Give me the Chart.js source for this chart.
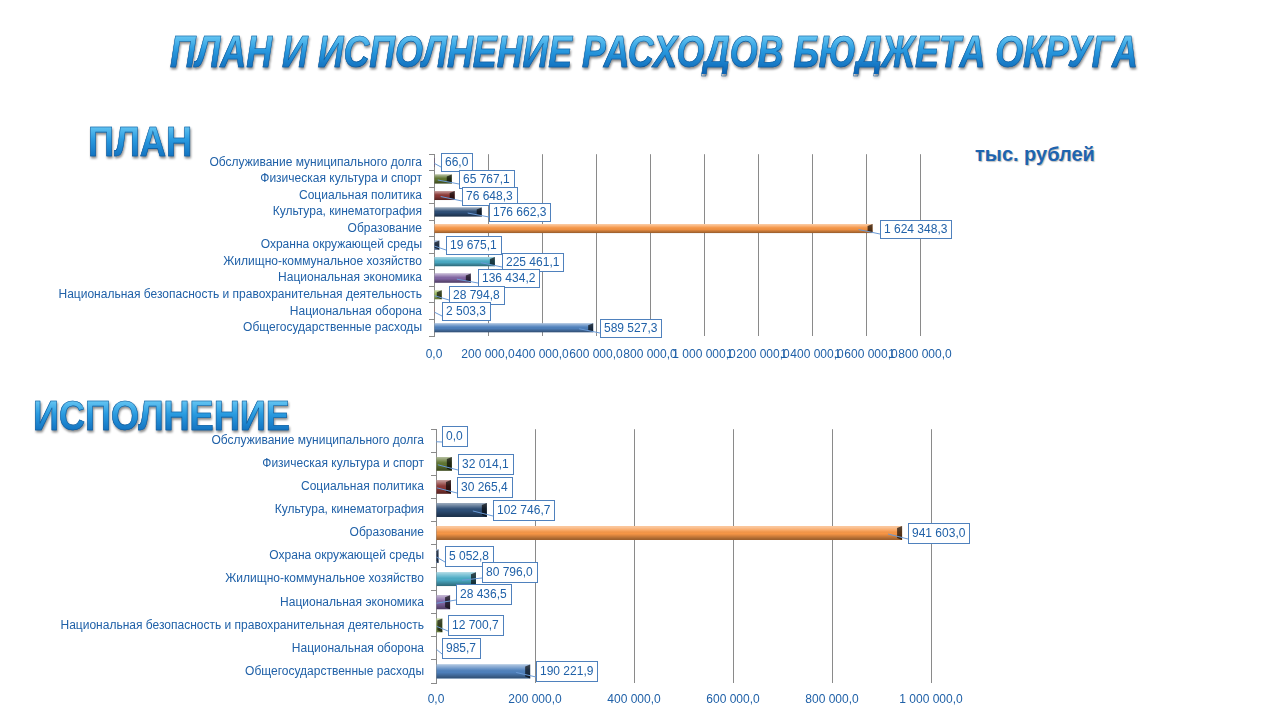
<!DOCTYPE html>
<html lang="ru">
<head>
<meta charset="utf-8">
<title>План и исполнение расходов бюджета округа</title>
<script src="https://cdn.jsdelivr.net/npm/chart.js@4.4.1/dist/chart.umd.min.js"></script>
<style>
  html, body { margin: 0; padding: 0; background: #fff; }
  body { width: 1280px; height: 720px; position: relative; overflow: hidden; font-family: "Liberation Sans", Arial, sans-serif; }
  canvas { position: absolute; left: 0; }
  .heading {
    position: absolute; z-index: 2; white-space: nowrap; font-weight: bold; line-height: 1;
    background: linear-gradient(#7fd8fa 0%, #2a9be0 45%, #0a63b4 100%);
    -webkit-background-clip: text; background-clip: text; color: transparent;
    -webkit-text-stroke: 0.6px #0d5596;
    filter: drop-shadow(1px 2px 1px rgba(0, 0, 0, 0.45));
    transform-origin: left top;
  }
  #title { left: 170px; top: 30px; font-family: "Liberation Sans Narrow", "Liberation Sans", sans-serif; font-style: italic; font-size: 44px; }
  #planHead { left: 88px; top: 120px; font-size: 43px; }
  #execHead { left: 33px; top: 395px; font-size: 42px; }
  #units { position: absolute; left: 975px; top: 143px; font-size: 20px; font-weight: bold; color: #1e64af; text-shadow: 1px 1px 1px rgba(0,0,0,0.25); }
</style>
</head>
<body>
<div class="heading" id="title">ПЛАН И ИСПОЛНЕНИЕ РАСХОДОВ БЮДЖЕТА ОКРУГА</div>
<div class="heading" id="planHead">ПЛАН</div>
<div class="heading" id="execHead">ИСПОЛНЕНИЕ</div>
<div id="units">тыс. рублей</div>
<canvas id="planChart" width="1000" height="230" style="top:140px"></canvas>
<canvas id="execChart" width="1000" height="300" style="top:415px"></canvas>
<script>
// categories listed top to bottom, as shown
const planCategories = [
  'Обслуживание муниципального долга',
  'Физическая культура и спорт',
  'Социальная политика',
  'Культура, кинематография',
  'Образование',
  'Охранна окружающей среды',
  'Жилищно-коммунальное хозяйство',
  'Национальная экономика',
  'Национальная безопасность и правохранительная деятельность',
  'Национальная оборона',
  'Общегосударственные расходы'
];
const execCategories = [
  'Обслуживание муниципального долга',
  'Физическая культура и спорт',
  'Социальная политика',
  'Культура, кинематография',
  'Образование',
  'Охрана окружающей среды',
  'Жилищно-коммунальное хозяйство',
  'Национальная экономика',
  'Национальная безопасность и правохранительная деятельность',
  'Национальная оборона',
  'Общегосударственные расходы'
];
const planValues = [66.0, 65767.1, 76648.3, 176662.3, 1624348.3, 19675.1, 225461.1, 136434.2, 28794.8, 2503.3, 589527.3];
const execValues = [0.0, 32014.1, 30265.4, 102746.7, 941603.0, 5052.8, 80796.0, 28436.5, 12700.7, 985.7, 190221.9];
const planTicks = [0, 200000, 400000, 600000, 800000, 1000000, 1200000, 1400000, 1600000, 1800000];
const execTicks = [0, 200000, 400000, 600000, 800000, 1000000];

const barColors = ['#5c4776', '#5f7530', '#8c3836', '#2c4d75', '#f79646', '#6790cc',
  '#4bacc6', '#8064a2', '#9bbb59', '#c0504d', '#4f81bd'];

const textBlue = '#2061a8';
const fontFamily = '"Liberation Sans", Arial, sans-serif';

// "1 624 348,3" style
function fmt(v) {
  const parts = v.toFixed(1).split('.');
  return parts[0].replace(/\B(?=(\d{3})+(?!\d))/g, ' ') + ',' + parts[1];
}

// glossy look for the bars
const barShade = {
  id: 'barShade',
  afterDatasetsDraw(chart) {
    const ctx = chart.ctx;
    chart.getDatasetMeta(0).data.forEach(bar => {
      const len = bar.x - bar.base;
      if (len < 0.5) return;
      const top = bar.y - bar.height / 2;
      const g = ctx.createLinearGradient(0, top, 0, top + bar.height);
      g.addColorStop(0, 'rgba(255,255,255,0.55)');
      g.addColorStop(0.35, 'rgba(255,255,255,0.1)');
      g.addColorStop(0.55, 'rgba(0,0,0,0)');
      g.addColorStop(1, 'rgba(0,0,0,0.4)');
      ctx.save();
      ctx.fillStyle = g;
      ctx.fillRect(bar.base, top, len, bar.height);
      const cap = Math.min(5, len);
      ctx.fillStyle = 'rgba(0,0,0,0.65)';
      ctx.beginPath();
      ctx.moveTo(bar.x, top);
      ctx.lineTo(bar.x, top + bar.height);
      ctx.lineTo(bar.x - cap, top + bar.height - 2);
      ctx.lineTo(bar.x - cap, top + 2);
      ctx.closePath();
      ctx.fill();
      ctx.restore();
    });
  }
};

// boxed value labels with a small callout
const valueLabels = {
  id: 'valueLabels',
  afterDatasetsDraw(chart, args, opts) {
    const ctx = chart.ctx;
    const data = chart.data.datasets[0].data;
    ctx.save();
    ctx.font = opts.size + 'px ' + fontFamily;
    ctx.textBaseline = 'middle';
    chart.getDatasetMeta(0).data.forEach((bar, i) => {
      const text = fmt(data[i]);
      const w = Math.round(ctx.measureText(text).width + opts.padX * 2);
      const h = opts.boxHeight;
      const bx = Math.round(bar.x + opts.gap);
      const cy = Math.round(bar.y + (opts.shifts ? opts.shifts[i] : 0));
      const by = cy - Math.round(h / 2);
      ctx.strokeStyle = '#6a9ad6';
      ctx.lineWidth = 1;
      ctx.beginPath();
      ctx.moveTo(bar.x - Math.min(14, bar.x - bar.base), bar.y + 1);
      ctx.lineTo(bx, by + h - 4);
      ctx.stroke();
      ctx.fillStyle = '#fff';
      ctx.fillRect(bx, by, w, h);
      ctx.strokeStyle = '#4f81bd';
      ctx.strokeRect(bx + 0.5, by + 0.5, w, h);
      ctx.fillStyle = textBlue;
      ctx.fillText(text, bx + opts.padX, cy + 1);
    });
    ctx.restore();
  }
};

function makeChart(id, categories, values, ticks, o) {
  return new Chart(document.getElementById(id), {
    type: 'bar',
    data: {
      labels: categories,
      datasets: [{
        data: values,
        backgroundColor: barColors,
        borderWidth: 0,
        barPercentage: o.barPct,
        categoryPercentage: 1
      }]
    },
    options: {
      indexAxis: 'y',
      responsive: false,
      animation: false,
      layout: { padding: { top: o.padTop, right: o.padRight, left: 0, bottom: 0 } },
      plugins: {
        legend: { display: false },
        tooltip: { enabled: false },
        valueLabels: { size: o.labelSize, padX: 4, boxHeight: o.boxHeight, gap: o.gap, shifts: o.shifts }
      },
      scales: {
        x: {
          min: 0,
          max: ticks[ticks.length - 1],
          afterBuildTicks: scale => { scale.ticks = ticks.map(v => ({ value: v })); },
          afterFit: scale => { scale.height = o.xHeight; },
          grid: { color: '#8a8a8a', drawTicks: false },
          border: { display: false },
          ticks: {
            autoSkip: false, maxRotation: 0, minRotation: 0, padding: o.xPad,
            color: textBlue, font: { family: fontFamily, size: o.tickSize },
            callback: v => fmt(v)
          }
        },
        y: {
          afterFit: scale => { scale.width = o.yWidth; },
          grid: { drawOnChartArea: false, tickLength: 5, color: '#8a8a8a', offset: true },
          border: { display: true, color: '#8a8a8a' },
          ticks: { autoSkip: false, padding: 7, color: textBlue, font: { family: fontFamily, size: 12 } }
        }
      }
    },
    plugins: [barShade, valueLabels]
  });
}

makeChart('planChart', planCategories, planValues, planTicks, {
  barPct: 0.55, padTop: 10, padRight: 80, xHeight: 34, yWidth: 434, xPad: 11,
  tickSize: 12, labelSize: 12, boxHeight: 18, gap: 7, shifts: null
});
makeChart('execChart', execCategories, execValues, execTicks, {
  barPct: 0.6, padTop: 12, padRight: 69, xHeight: 32, yWidth: 436, xPad: 9,
  tickSize: 12, labelSize: 12, boxHeight: 20, gap: 6,
  shifts: [-5, 0, 0, 0, 0, 0, -7, -8, 0, 0, 0]
});

// stretch headings to their widths in the reference
function fitWidth(id, target) {
  const el = document.getElementById(id);
  el.style.transform = 'scaleX(' + (target / el.offsetWidth) + ')';
}
fitWidth('title', 968);
fitWidth('planHead', 104);
fitWidth('execHead', 257);
</script>
</body>
</html>
